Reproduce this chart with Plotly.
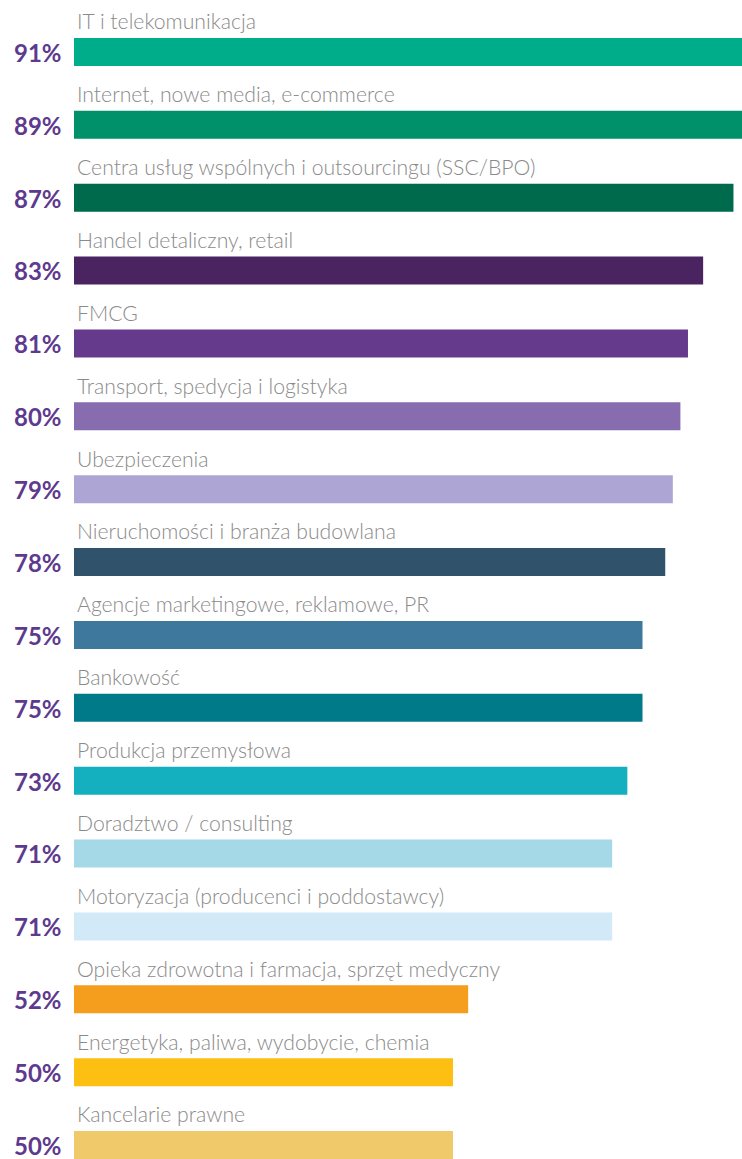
import plotly.graph_objects as go

categories = [
    "IT i telekomunikacja",
    "Internet, nowe media, e-commerce",
    "Centra usług wspólnych i outsourcingu (SSC/BPO)",
    "Handel detaliczny, retail",
    "FMCG",
    "Transport, spedycja i logistyka",
    "Ubezpieczenia",
    "Nieruchomości i branża budowlana",
    "Agencje marketingowe, reklamowe, PR",
    "Bankowość",
    "Produkcja przemysłowa",
    "Doradztwo / consulting",
    "Motoryzacja (producenci i poddostawcy)",
    "Opieka zdrowotna i farmacja, sprzęt medyczny",
    "Energetyka, paliwa, wydobycie, chemia",
    "Kancelarie prawne",
]
values = [91, 89, 87, 83, 81, 80, 79, 78, 75, 75, 73, 71, 71, 52, 50, 50]
colors = [
    "#00AD8A", "#00916B", "#006A4C", "#4A2460", "#653A8C", "#876CB0",
    "#ADA5D3", "#31526B", "#3E789C", "#007A88", "#14B0C0", "#A6D9E8",
    "#D2EAF7", "#F59E1E", "#FDBF12", "#EFC96A",
]

W, H = 742, 1159
left = 74
plot_w = W - left
px_per_unit = 7.58
xmax = plot_w / px_per_unit

first_c, last_c = 52, 1145
n = len(categories)
row_px = (last_c - first_c) / (n - 1)
y_top = -first_c / row_px
y_bot = (n - 1) + (H - last_c) / row_px

pos = list(range(n))

fig = go.Figure()
fig.add_trace(go.Bar(
    x=values, y=pos, orientation="h",
    marker=dict(color=colors, line=dict(width=0)),
    width=28 / row_px,
    hoverinfo="skip",
))

for i, (cat, v) in enumerate(zip(categories, values)):
    fig.add_annotation(
        x=1 / plot_w, y=i - 0.42, xref="paper", yref="y",
        text=cat, showarrow=False, xanchor="left", yanchor="middle",
        font=dict(family="Lato", size=21.2, color="#8A8A8A", weight=300),
    )
    fig.add_annotation(
        x=-10 / plot_w, y=i + 0.005, xref="paper", yref="y",
        text=f"{v}%", showarrow=False, xanchor="right", yanchor="middle",
        font=dict(family="Lato", size=24, color="#5E3A8E", weight=700),
    )

fig.update_layout(
    width=W, height=H,
    margin=dict(l=left, r=0, t=0, b=0),
    paper_bgcolor="white", plot_bgcolor="white",
    showlegend=False,
    xaxis=dict(range=[0, xmax], visible=False, fixedrange=True),
    yaxis=dict(range=[y_bot, y_top], visible=False, fixedrange=True),
)

fig.write_html("out.html", config={"displayModeBar": False})
